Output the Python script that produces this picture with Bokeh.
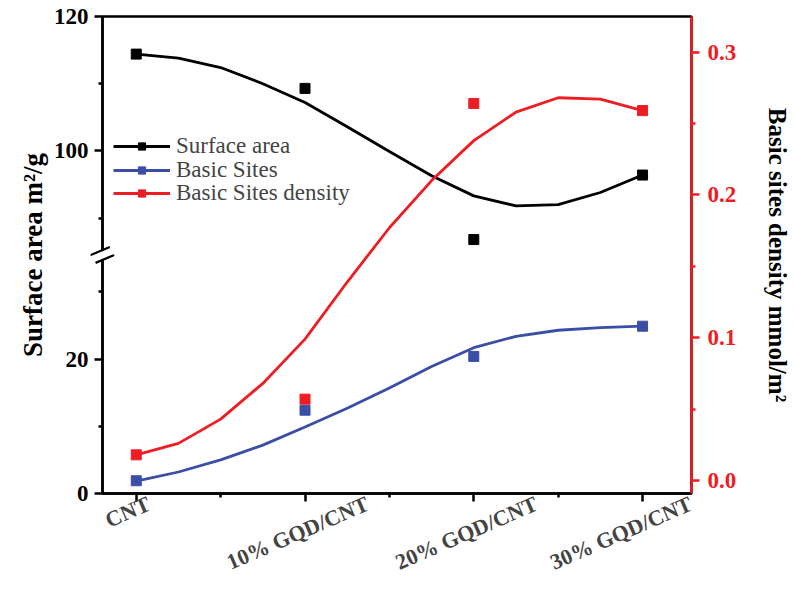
import math
from bokeh.plotting import figure
from bokeh.models import (Range1d, LinearAxis, FixedTicker, Legend, LegendItem, Label)
from bokeh.embed import file_html
from bokeh.resources import INLINE

# ---------------- data ----------------
categories = ["CNT", "10% GQD/CNT", "20% GQD/CNT", "30% GQD/CNT"]
surface_area = [114.4, 109.3, 86.8, 96.4]      # m2/g (left axis, black)
basic_sites = [1.9, 12.4, 20.4, 24.9]          # (left axis, blue)
basic_density = [0.018, 0.057, 0.264, 0.259]   # mmol/m2 (right axis, red)

# smoothed curves as drawn in the reference (read at quarter-category steps)
fit_pos = [0.0, 0.25, 0.5, 0.75, 1.0, 1.25, 1.5, 1.75, 2.0, 2.25, 2.5, 2.75, 3.0]
surface_fit = [114.4, 113.8, 112.4, 110.0, 107.2, 103.6, 99.9, 96.3, 93.3, 91.8, 92.0, 93.8, 96.4]
sites_fit = [1.85, 3.2, 5.0, 7.2, 9.9, 12.7, 15.7, 18.9, 21.7, 23.4, 24.3, 24.7, 24.9]
density_fit = [0.018, 0.026, 0.043, 0.068, 0.099, 0.139, 0.177, 0.210, 0.238, 0.258, 0.268, 0.267, 0.259]

series_names = ["Surface area", "Basic Sites", "Basic Sites density"]

left_major = [0, 20, 100, 120]
left_minor = [10, 30, 90, 110]
right_major = [0.0, 0.1, 0.2, 0.3]
right_minor = [0.05, 0.15, 0.25]

# ---------------- broken left axis ----------------
LOWER_MAX = 35.5
UPPER_MIN = 84.5
LEFT_TOP = 120


def to_display(v):
    return v if v <= LOWER_MAX else v - (UPPER_MIN - LOWER_MAX)


W, H = 794, 589
BL, BR, BT, BB = 102, 99, 16, 95
FW, FH = W - BL - BR, H - BT - BB
X0, X1 = -0.2, 3.29
Y0, Y1 = 0, to_display(LEFT_TOP)
R0, R1 = -0.00907, 0.3249
PX_PER_X = FW / (X1 - X0)

BLACK = "#000000"
BLUE = "#3A4EA6"
RED = "#EE1D23"
FONT = "Liberation Serif"

p = figure(width=W, height=H, output_backend="svg", toolbar_location=None,
           x_range=Range1d(X0, X1), y_range=Range1d(Y0, Y1),
           min_border_left=BL, min_border_right=BR, min_border_top=BT, min_border_bottom=BB)
p.extra_y_ranges = {"right": Range1d(R0, R1)}
p.xgrid.visible = False
p.ygrid.visible = False
p.outline_line_color = "black"
p.outline_line_width = 2.5
p.background_fill_color = "white"
p.border_fill_color = "white"

xs = list(range(len(categories)))

# smooth curves
l_sa = p.line(fit_pos, [to_display(v) for v in surface_fit], line_color=BLACK, line_width=2.8)
l_bs = p.line(fit_pos, [to_display(v) for v in sites_fit], line_color=BLUE, line_width=2.8)
l_bd = p.line(fit_pos, density_fit, line_color=RED, line_width=2.8, y_range_name="right")

# data points
s_sa = p.scatter(xs, [to_display(v) for v in surface_area], marker="square", size=10,
                 fill_color=BLACK, line_color=BLACK)
s_bs = p.scatter(xs, [to_display(v) for v in basic_sites], marker="square", size=10,
                 fill_color=BLUE, line_color=BLUE)
s_bd = p.scatter(xs, basic_density, marker="square", size=10,
                 fill_color=RED, line_color=RED, y_range_name="right")


def style_axis(ax, color="black", tick_font="23px", standoff=3, label_standoff=10,
               label_font="25px"):
    ax.axis_line_color = color
    ax.major_tick_line_color = color
    ax.minor_tick_line_color = color
    ax.axis_line_width = 2.5
    ax.major_tick_line_width = 2.5
    ax.minor_tick_line_width = 2.5
    ax.major_tick_out = 8
    ax.major_tick_in = 0
    ax.minor_tick_out = 4
    ax.minor_tick_in = 0
    ax.major_label_text_font = FONT
    ax.major_label_text_font_style = "bold"
    ax.major_label_text_font_size = tick_font
    ax.major_label_text_color = color
    ax.major_label_standoff = standoff
    ax.axis_label_text_font = FONT
    ax.axis_label_text_font_style = "bold"
    ax.axis_label_text_font_size = label_font
    ax.axis_label_text_color = "black"
    ax.axis_label_standoff = label_standoff


# ---------------- axes ----------------
xa = p.xaxis[0]
style_axis(xa, standoff=0)
xa.ticker = FixedTicker(ticks=xs, minor_ticks=[i + 0.5 for i in xs[:-1]])
xa.major_label_text_font_size = "0px"
xa.major_label_text_alpha = 0

# rotated category labels: a line-less axis whose (right-aligned) labels are
# shifted so that each text is centred under its category tick
LABEL_ANGLE = 0.41
LABEL_FONT_PX = 22
CHAR_EM = 0.62


def label_pos(i, text):
    w = CHAR_EM * LABEL_FONT_PX * len(text)
    return min(i + (w / 2 * math.cos(LABEL_ANGLE) - 6) / PX_PER_X, X1 - 0.004)


label_ticks = [label_pos(i, c) for i, c in enumerate(categories)]
la = LinearAxis(ticker=FixedTicker(ticks=label_ticks, minor_ticks=[]))
la.major_label_overrides = {float(t): c for t, c in zip(label_ticks, categories)}
la.major_label_orientation = LABEL_ANGLE
la.axis_line_color = None
la.major_tick_line_color = None
la.minor_tick_line_color = None
la.major_tick_out = 0
la.major_tick_in = 0
la.minor_tick_out = 0
la.minor_tick_in = 0
la.major_label_standoff = 1
la.major_label_text_font = FONT
la.major_label_text_font_style = "bold"
la.major_label_text_font_size = f"{LABEL_FONT_PX}px"
p.add_layout(la, "below")

ya = p.yaxis[0]
style_axis(ya, standoff=6, label_standoff=3, label_font="27px")
ya.ticker = FixedTicker(ticks=[to_display(v) for v in left_major],
                        minor_ticks=[to_display(v) for v in left_minor])
ya.major_label_overrides = {float(to_display(v)): str(v) for v in left_major}
ya.axis_label = "Surface area m\u00b2/g"

ra = LinearAxis(y_range_name="right",
                ticker=FixedTicker(ticks=right_major, minor_ticks=right_minor),
                axis_label="Basic sites density mmol/m\u00b2")
style_axis(ra, color=RED, standoff=8, label_standoff=25, label_font="25px")
ra.major_label_overrides = {float(v): f"{v:.1f}" for v in right_major}
p.add_layout(ra, "right")

# axis-break mark on the left axis: white box whose two long edges are drawn
# (dash pattern skips the short edges) -> "//" crossing the axis
p.add_layout(Label(x=X0, y=LOWER_MAX, text=" ", text_font_size="1px", angle=0.40,
                   text_align="center", text_baseline="middle",
                   padding=(10, 4), background_fill_color="white", background_fill_alpha=1.0,
                   border_line_color="black", border_line_width=2.2,
                   border_line_dash="20 9"), "above")

# legend: one single-item legend per series, stacked at the reference pitch
LEG_TOP_CENTER = 147
LEG_PITCH = 23.5
LEG_ITEM_H = 26
renderers = [(l_sa, s_sa), (l_bs, s_bs), (l_bd, s_bd)]
for k, (name, rs) in enumerate(zip(series_names, renderers)):
    yc = LEG_TOP_CENTER + k * LEG_PITCH
    lg = Legend(items=[LegendItem(label=name, renderers=list(rs))],
                location=(11, (BT + FH) - yc - LEG_ITEM_H / 2))
    lg.border_line_alpha = 0
    lg.background_fill_alpha = 0
    lg.padding = 0
    lg.margin = 0
    lg.glyph_width = 57
    lg.glyph_height = 18
    lg.label_height = 18
    lg.label_standoff = 6
    lg.label_text_font = FONT
    lg.label_text_font_size = "23px"
    p.add_layout(lg, "center")

open("out.html", "w").write(file_html(p, INLINE))
